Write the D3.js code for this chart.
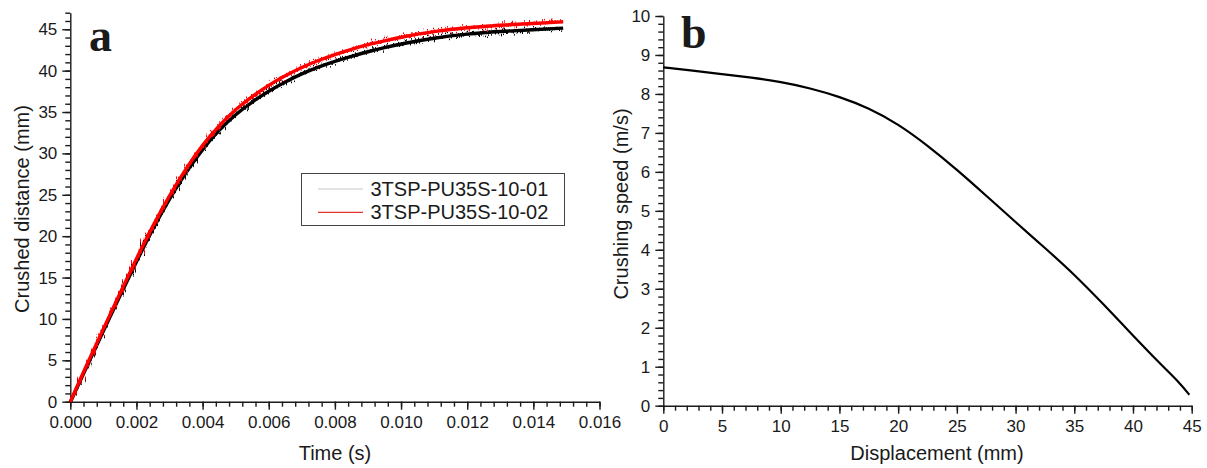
<!DOCTYPE html>
<html>
<head>
<meta charset="utf-8">
<script src="https://cdn.jsdelivr.net/npm/d3@7"></script>
<style>
  body { margin: 0; background: #fff; }
  svg { display: block; }
  text { font-family: "Liberation Sans", Arial, sans-serif; fill: #1a1a1a; }
  .domain, .tick line { stroke: #1a1a1a; stroke-width: 1.4; }
</style>
</head>
<body>
<svg id="chart" width="1207" height="468"></svg>
<script>
// panel a: crushed distance vs time
var timeS = [0, 0.0005, 0.001, 0.0015, 0.002, 0.0025, 0.003, 0.0035, 0.004, 0.0045, 0.005, 0.0055,
             0.006, 0.0065, 0.007, 0.0075, 0.008, 0.0085, 0.009, 0.0095, 0.010, 0.011, 0.012, 0.013, 0.014, 0.0149];
var run01 = [0, 4.3, 8.6, 12.85, 17.0, 21.0, 24.6, 27.8, 30.6, 32.9, 34.8, 36.3,
             37.6, 38.7, 39.7, 40.5, 41.2, 41.8, 42.35, 42.85, 43.3, 44.0, 44.5, 44.8, 45.0, 45.2];
var run02 = [0, 4.5, 8.8, 13.1, 17.3, 21.3, 24.95, 28.2, 31.05, 33.4, 35.35, 36.9,
             38.25, 39.4, 40.4, 41.25, 41.95, 42.6, 43.15, 43.6, 44.05, 44.75, 45.2, 45.5, 45.7, 45.9];
var seriesNames = ['3TSP-PU35S-10-01', '3TSP-PU35S-10-02'];
var timeTicks = [0, 0.002, 0.004, 0.006, 0.008, 0.010, 0.012, 0.014, 0.016];
var distTicks = [0, 5, 10, 15, 20, 25, 30, 35, 40, 45];

// panel b: crushing speed vs displacement
var dispMm  = [0, 2.5, 5, 7.5, 10, 12.5, 15, 17.5, 20, 22.5, 25, 27.5, 30, 32.5, 35, 37.5, 40, 42.5, 44, 44.8];
var speedMs = [8.68, 8.60, 8.51, 8.42, 8.31, 8.15, 7.93, 7.64, 7.23, 6.68, 6.06, 5.39, 4.71, 4.05, 3.37, 2.60, 1.80, 1.02, 0.58, 0.28];
var dispTicks = [0, 5, 10, 15, 20, 25, 30, 35, 40, 45];
var speedTicks = [0, 1, 2, 3, 4, 5, 6, 7, 8, 9, 10];

var svg = d3.select('#chart');

// noise filter to mimic the jittery test signal
var defs = svg.append('defs');
var f = defs.append('filter').attr('id', 'jitter')
    .attr('filterUnits', 'userSpaceOnUse')
    .attr('x', 0).attr('y', 0).attr('width', 620).attr('height', 420);
f.append('feTurbulence').attr('type', 'fractalNoise')
    .attr('baseFrequency', '1.1 0.04').attr('numOctaves', 2).attr('seed', 3).attr('result', 'n');
f.append('feDisplacementMap').attr('in', 'SourceGraphic').attr('in2', 'n')
    .attr('scale', 14).attr('xChannelSelector', 'A').attr('yChannelSelector', 'G');

function drawAxes(x, y, xMajor, xMinorStep, yMajor, yMinorStep, xFmt, yFmt) {
    var xd = x.domain(), yd = y.domain();
    var xMinor = d3.range(xd[0], xd[1] + 1e-9, xMinorStep);
    var yMinor = d3.range(yd[0], yd[1] + 1e-9, yMinorStep);
    var y0 = y.range()[0], x0 = x.range()[0];

    svg.append('g').attr('transform', `translate(0,${y0})`)
        .call(d3.axisBottom(x).tickValues(xMinor).tickSize(5).tickFormat('').tickSizeOuter(0))
        .select('.domain').remove();
    svg.append('g').attr('transform', `translate(${x0},0)`)
        .call(d3.axisLeft(y).tickValues(yMinor).tickSize(5).tickFormat('').tickSizeOuter(0))
        .select('.domain').remove();

    var gx = svg.append('g').attr('transform', `translate(0,${y0})`)
        .call(d3.axisBottom(x).tickValues(xMajor).tickSize(8).tickPadding(6).tickSizeOuter(0).tickFormat(xFmt));
    gx.selectAll('text').style('font-size', '17px');
    var gy = svg.append('g').attr('transform', `translate(${x0},0)`)
        .call(d3.axisLeft(y).tickValues(yMajor).tickSize(8).tickPadding(5).tickSizeOuter(0).tickFormat(yFmt));
    gy.selectAll('text').style('font-size', '17px');
}

// ---------- panel a ----------
var xA = d3.scaleLinear().domain([0, 0.016]).range([70.3, 599.5]);
var yA = d3.scaleLinear().domain([0, 47]).range([401.7, 12.7]);
drawAxes(xA, yA, timeTicks, 0.0004, distTicks, 1, d3.format('.3f'), d3.format('d'));

var lineA = function (vals) {
    return d3.line().x((d, i) => xA(timeS[i])).y(d => yA(d)).curve(d3.curveBasis)(vals);
};
[[run01, '#000', 0.5], [run02, '#f00', 0]].forEach(function (s) {
    var g = svg.append('g').attr('transform', `translate(0,${s[2]})`);
    g.append('path').attr('d', lineA(s[0]))
        .attr('fill', 'none').attr('stroke', s[1]).attr('stroke-width', 3.4);
    g.append('path').attr('d', lineA(s[0])).attr('filter', 'url(#jitter)')
        .attr('fill', 'none').attr('stroke', s[1]).attr('stroke-width', 1.5);
});

svg.append('text').attr('x', 335).attr('y', 460).attr('text-anchor', 'middle')
    .style('font-size', '20px').text('Time (s)');
svg.append('text').attr('transform', 'translate(28.5,209) rotate(-90)').attr('text-anchor', 'middle')
    .style('font-size', '20px').text('Crushed distance (mm)');
svg.append('text').attr('x', 89).attr('y', 51)
    .style('font-family', '"Liberation Serif", "Times New Roman", serif')
    .style('font-weight', 'bold').style('font-size', '46px').text('a');

// legend
var leg = svg.append('g');
leg.append('rect').attr('x', 301.5).attr('y', 173.5).attr('width', 263).attr('height', 52)
    .attr('fill', '#fff').attr('stroke', '#444').attr('stroke-width', 1);
var legColors = ['#c8c8c8', '#e00000'];
seriesNames.forEach(function (name, i) {
    var ly = 189 + i * 23.3;
    leg.append('line').attr('x1', 318).attr('x2', 363).attr('y1', ly).attr('y2', ly)
        .attr('stroke', legColors[i]).attr('stroke-width', 1);
    leg.append('text').attr('x', 370.5).attr('y', ly + 7)
        .style('font-size', '20px').text(name);
});

// ---------- panel b ----------
var xB = d3.scaleLinear().domain([0, 45]).range([663.3, 1191.7]);
var yB = d3.scaleLinear().domain([0, 10]).range([405.7, 16]);
drawAxes(xB, yB, dispTicks, 1, speedTicks, 0.2, d3.format('d'), d3.format('d'));

svg.append('path')
    .attr('d', d3.line().x((d, i) => xB(dispMm[i])).y(d => yB(d)).curve(d3.curveBasis)(speedMs))
    .attr('fill', 'none').attr('stroke', '#000').attr('stroke-width', 2.2);

svg.append('text').attr('x', 937).attr('y', 460).attr('text-anchor', 'middle')
    .style('font-size', '20px').text('Displacement (mm)');
svg.append('text').attr('transform', 'translate(627.5,204) rotate(-90)').attr('text-anchor', 'middle')
    .style('font-size', '20px').text('Crushing speed (m/s)');
svg.append('text').attr('x', 681).attr('y', 48)
    .style('font-family', '"Liberation Serif", "Times New Roman", serif')
    .style('font-weight', 'bold').style('font-size', '46px').text('b');
</script>
</body>
</html>
